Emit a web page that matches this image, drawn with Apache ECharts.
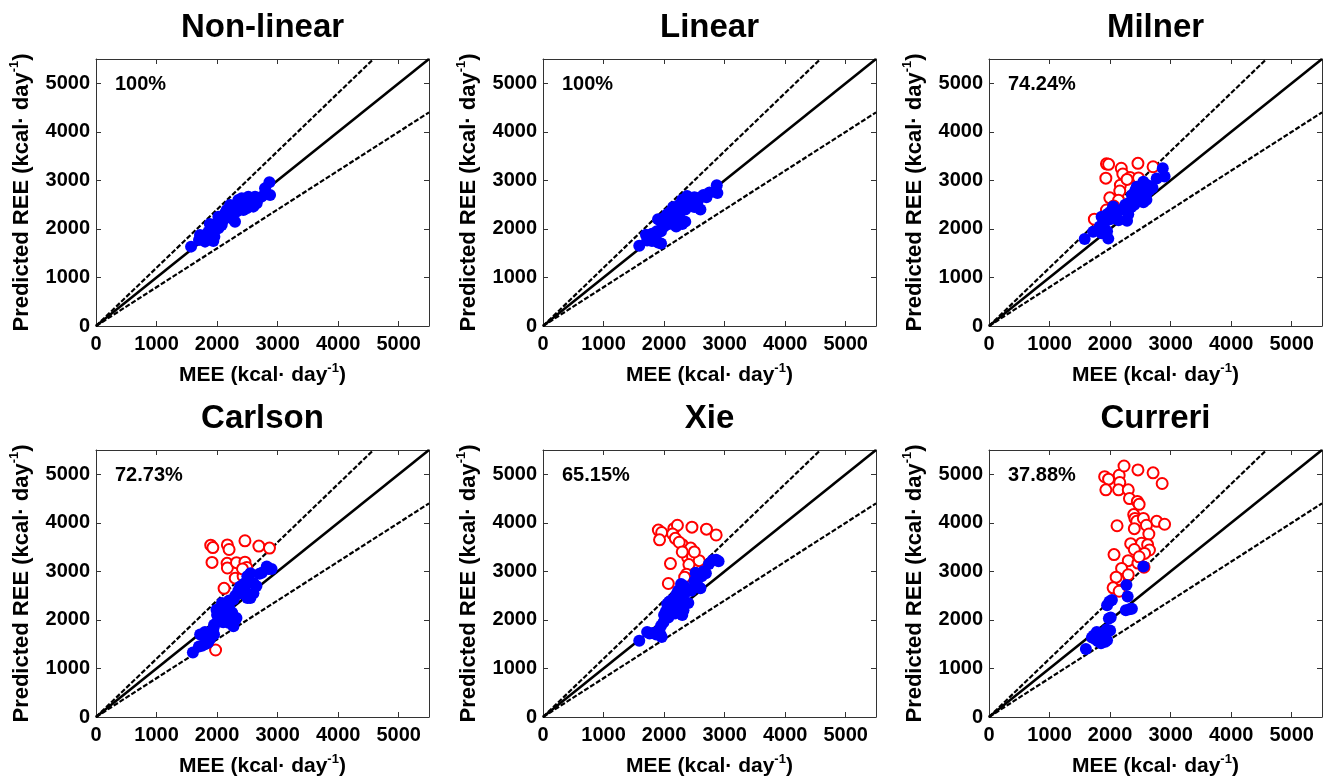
<!DOCTYPE html>
<html>
<head>
<meta charset="utf-8">
<script src="https://cdn.jsdelivr.net/npm/echarts@6/dist/echarts.min.js"></script>
<style>
html,body{margin:0;padding:0;background:#fff;}
#chart{width:1323px;height:783px;}
</style>
</head>
<body>
<div id="chart"></div>
<script>
// ---------- DATA ----------
const panelTitles = ['Non-linear', 'Linear', 'Milner', 'Carlson', 'Xie', 'Curreri'];
const agreementLabels = ['100%', '100%', '74.24%', '72.73%', '65.15%', '37.88%'];
const tickValues = [0, 1000, 2000, 3000, 4000, 5000];
const axisMin = 0;
const axisMax = 5500;
const xAxisName = 'MEE (kcal· day';
const yAxisName = 'Predicted REE (kcal· day';
const unitExponent = '-1';

// reference lines: identity, +20 %, -20 %
const identityLine = [[0, 0], [5500, 5500]];
const upperLine = [[0, 0], [4583, 5500]];
const lowerLine = [[0, 0], [5500, 4400]];

// [MEE, predicted REE] — within ±20 % (blue) / outside (red)
const nonlinearIn = [[1570,1635],[1718,1875],[1701,1772],[1801,1738],[1938,1751],[1955,1841],[1856,1944],[1911,2047],[1993,2115],[2021,2012],[2104,2184],[2076,2081],[2186,2287],[2241,2218],[2296,2149],[2324,2356],[2269,2459],[2379,2493],[2406,2630],[2461,2527],[2516,2665],[2572,2562],[2627,2665],[2682,2630],[2599,2459],[2489,2424],[2159,2390],[2214,2493],[2131,2321],[2792,2836],[2864,2960],[2875,2699],[2737,2665],[1828,1841],[2021,2253],[2351,2596],[2434,2390],[2654,2527],[1880,2100],[1950,1950]];
const nonlinearOut = [];
const linearIn = [[1590,1655],[1700,1880],[1720,1760],[1800,1750],[1860,1800],[1900,1720],[1950,1700],[1880,1950],[1900,2200],[1950,2150],[1990,2220],[2000,2050],[2080,2100],[2100,2350],[2150,2200],[2200,2400],[2250,2300],[2300,2100],[2350,2150],[2250,2500],[2300,2600],[2380,2680],[2400,2500],[2450,2600],[2500,2650],[2550,2550],[2600,2400],[2600,2650],[2650,2700],[2750,2750],[2870,2900],[2880,2740],[2150,2450],[2050,2300],[1800,1900],[2350,2400],[2500,2450],[2700,2650],[2200,2050],[1950,1950]];
const linearOut = [];
const milnerIn = [[1580,1790],[1720,1940],[1860,1910],[1970,1800],[1860,2250],[1900,2100],[1950,2300],[2000,2350],[2050,2460],[2000,2200],[2100,2300],[2140,2180],[2280,2170],[2200,2400],[2300,2530],[2350,2450],[2360,2700],[2390,2600],[2420,2800],[2440,2870],[2450,2650],[2500,2600],[2500,2750],[2520,2900],[2550,2970],[2560,2660],[2600,2730],[2620,2900],[2650,2800],[2700,2850],[2770,3040],[2870,3250],[2900,3080],[2250,2500],[2400,2500],[2550,2550],[2300,2300],[1830,2050],[1950,1950],[2600,2600]];
const milnerOut = [[1940,3340],[1975,3330],[1930,3045],[2185,3250],[2210,3130],[2460,3350],[2710,3280],[2330,3060],[2170,2900],[2160,2780],[1995,2640],[2140,2590],[1940,2390],[1740,2200],[2470,3050],[2280,3020],[2060,2470]];
const carlsonIn = [[1600,1330],[1720,1700],[1700,1450],[1750,1470],[1800,1500],[1850,1530],[1880,1600],[1900,1750],[1940,1830],[1950,1900],[1990,2210],[2000,1950],[2030,2000],[2050,2040],[2080,2350],[2100,1950],[2150,2100],[2190,1940],[2200,2250],[2250,2150],[2270,1870],[2300,2000],[2320,2040],[2270,2420],[2300,2500],[2350,2600],[2380,2690],[2400,2550],[2450,2650],[2500,2450],[2520,2520],[2550,2450],[2600,2550],[2600,2760],[2550,2960],[2500,2900],[2650,2700],[2700,2950],[2740,2970],[2820,3100],[2900,3050],[2850,3050],[2450,2750],[2200,2400],[2000,2100],[1950,1700],[1800,1750],[2150,2200]];
const carlsonOut = [[1895,3540],[1930,3490],[1916,3185],[2170,3545],[2198,3450],[2460,3630],[2690,3520],[2865,3480],[2165,3165],[2170,3070],[2320,3180],[2460,3190],[2490,3080],[2300,2860],[2430,2900],[2115,2650],[1975,1380],[2420,3050]];
const xieIn = [[1590,1570],[1720,1750],[1760,1720],[1810,1730],[1870,1700],[1940,1700],[1960,1650],[1920,1800],[1950,1880],[1990,1950],[2000,2100],[2030,2180],[2050,2330],[2090,2380],[2110,2250],[2140,2420],[2170,2290],[2200,2520],[2230,2600],[2260,2400],[2280,2150],[2300,2100],[2320,2200],[2330,2700],[2280,2740],[2350,2560],[2400,2350],[2500,2800],[2520,2970],[2540,2900],[2560,2700],[2600,2650],[2620,2900],[2650,3000],[2690,2960],[2740,3150],[2800,3230],[2860,3240],[2900,3210],[2070,2050],[2180,2130],[2450,2600],[2500,2680]];
const xieOut = [[1905,3850],[1960,3800],[1925,3650],[2160,3880],[2220,3950],[2140,3770],[2185,3680],[2460,3910],[2700,3870],[2860,3750],[2300,3550],[2440,3480],[2390,3280],[2470,3300],[2580,3220],[2105,3160],[2410,3140],[2370,2940],[2340,2880],[2070,2750],[2250,3600],[2500,3400],[2300,3400]];
const curreriIn = [[1600,1400],[1700,1640],[1730,1680],[1760,1600],[1800,1560],[1820,1700],[1850,1520],[1880,1620],[1910,1660],[1920,1550],[1940,1800],[1950,1580],[1980,2030],[2000,1780],[2010,2050],[1950,2300],[1990,2380],[2030,2410],[2270,2720],[2290,2480],[2260,2200],[2320,2220],[2360,2230],[2550,3100],[1780,1750]];
const curreriOut = [[1910,4950],[1975,4900],[1930,4680],[2150,4980],[2230,5170],[2460,5090],[2710,5030],[2860,4810],[2160,4830],[2140,4680],[2300,4680],[2320,4500],[2450,4440],[2480,4380],[2390,4170],[2410,4090],[2440,4030],[2550,4090],[2770,4030],[2900,3970],[2115,3940],[2600,3950],[2400,3880],[2640,3770],[2340,3570],[2520,3580],[2620,3550],[2650,3440],[2570,3370],[2065,3345],[2400,3450],[2300,3220],[2190,3060],[2460,3170],[2560,3085],[2300,2930],[2140,2830],[2100,2880],[2050,2660],[2150,2590],[2480,3300]];

const panelIn = [nonlinearIn, linearIn, milnerIn, carlsonIn, xieIn, curreriIn];
const panelOut = [nonlinearOut, linearOut, milnerOut, carlsonOut, xieOut, curreriOut];

// ---------- LAYOUT / STYLE ----------
const F = '"Liberation Sans", Arial, Helvetica, sans-serif';
const colLefts = [96, 543, 989];
const rowTops = [59, 450];
const PW = 333, PH = 267;
const frameColor = '#333';

function nameStyle(size, supSize) {
  return {
    color: '#000', fontFamily: F, fontWeight: 'bold', fontSize: size,
    rich: {
      a: { fontSize: size, fontWeight: 'bold', fontFamily: F, color: '#000', lineHeight: size + 6 },
      s: { fontSize: supSize, fontWeight: 'bold', fontFamily: F, color: '#000', verticalAlign: 'top', lineHeight: supSize + 2 }
    }
  };
}

const grids = [], xAxes = [], yAxes = [], series = [], titles = [];
panelTitles.forEach((t, i) => {
  const col = i % 3, row = Math.floor(i / 3);
  const left = colLefts[col], top = rowTops[row];
  grids.push({ left: left, top: top, width: PW, height: PH, show: false, containLabel: false });

  const tickStyle = { show: true, inside: true, length: 5, lineStyle: { color: frameColor, width: 1 }, customValues: tickValues };
  const lineStyle = { show: true, onZero: false, lineStyle: { color: frameColor, width: 1 } };
  const labelStyle = { show: true, color: '#000', fontFamily: F, fontWeight: 'bold', fontSize: 20, customValues: tickValues,
    formatter: function (v) { return String(v); } };

  xAxes.push({
    gridIndex: i, type: 'value', min: axisMin, max: axisMax, interval: 1000, position: 'bottom',
    axisLine: lineStyle, axisTick: tickStyle, splitLine: { show: false },
    axisLabel: Object.assign({ margin: 8 }, labelStyle),
    name: '{a|' + xAxisName + '}{s|' + unitExponent + '}{a|)}', nameLocation: 'middle', nameGap: 36,
    nameTextStyle: nameStyle(21, 13)
  });
  xAxes.push({
    gridIndex: i, type: 'value', min: axisMin, max: axisMax, interval: 1000, position: 'top',
    axisLine: lineStyle, axisTick: tickStyle, splitLine: { show: false }, axisLabel: { show: false }
  });
  yAxes.push({
    gridIndex: i, type: 'value', min: axisMin, max: axisMax, interval: 1000, position: 'left',
    axisLine: lineStyle, axisTick: tickStyle, splitLine: { show: false },
    axisLabel: Object.assign({ margin: 6 }, labelStyle),
    name: '{a|' + yAxisName + '}{s|' + unitExponent + '}{a|)}', nameLocation: 'middle', nameGap: 60, nameRotate: 90,
    nameTextStyle: nameStyle(22, 13)
  });
  yAxes.push({
    gridIndex: i, type: 'value', min: axisMin, max: axisMax, interval: 1000, position: 'right',
    axisLine: lineStyle, axisTick: tickStyle, splitLine: { show: false }, axisLabel: { show: false }
  });

  titles.push({
    text: t, left: left + PW / 2, top: top - 48, textAlign: 'center', padding: 0,
    textStyle: { fontFamily: F, fontWeight: 'bold', fontSize: 33, color: '#000' }
  });
  titles.push({
    text: agreementLabels[i], left: left + 19, top: top + 15, padding: 0,
    textStyle: { fontFamily: F, fontWeight: 'bold', fontSize: 20, color: '#000' }
  });

  const xi = 2 * i, yi = 2 * i;
  series.push({ type: 'line', xAxisIndex: xi, yAxisIndex: yi, data: identityLine, symbol: 'none', silent: true, clip: true,
    lineStyle: { color: '#000', width: 2.6, type: 'solid' }, z: 2 });
  series.push({ type: 'line', xAxisIndex: xi, yAxisIndex: yi, data: upperLine, symbol: 'none', silent: true, clip: true,
    lineStyle: { color: '#000', width: 2.2, type: [5, 2] }, z: 2 });
  series.push({ type: 'line', xAxisIndex: xi, yAxisIndex: yi, data: lowerLine, symbol: 'none', silent: true, clip: true,
    lineStyle: { color: '#000', width: 2.2, type: [5, 2] }, z: 2 });
  series.push({ type: 'scatter', xAxisIndex: xi, yAxisIndex: yi, data: panelOut[i], symbol: 'emptyCircle', symbolSize: 11,
    itemStyle: { color: '#ff0000', borderColor: '#ff0000', borderWidth: 2.4, opacity: 1 }, z: 3 });
  series.push({ type: 'scatter', xAxisIndex: xi, yAxisIndex: yi, data: panelIn[i], symbol: 'circle', symbolSize: 12,
    itemStyle: { color: '#0000ff', opacity: 1 }, z: 4 });
});

const chart = echarts.init(document.getElementById('chart'), null, { renderer: 'canvas' });
chart.setOption({
  backgroundColor: '#fff',
  animation: false,
  title: titles,
  grid: grids,
  xAxis: xAxes,
  yAxis: yAxes,
  series: series
});
</script>
</body>
</html>
